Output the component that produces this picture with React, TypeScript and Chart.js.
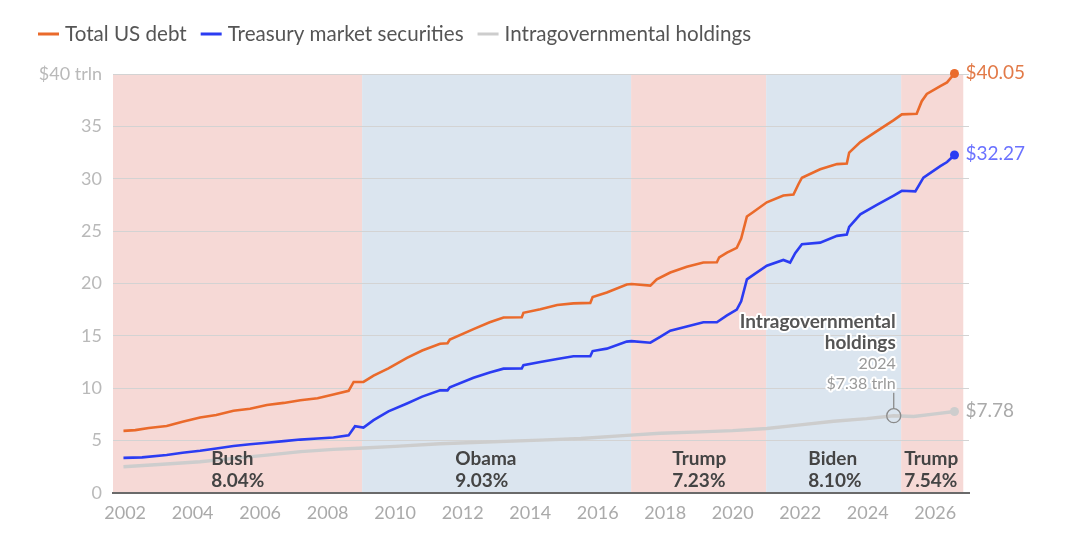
import React, { useEffect, useRef } from "react";
import { Chart, registerables } from "chart.js";

Chart.register(...registerables);

// ---------- DATA ----------
const totalDebtYears = [
  2001.95, 2002.3, 2002.7, 2003.23, 2003.7, 2004.22, 2004.7, 2005.21, 2005.7, 2006.2, 2006.7, 2007.19, 2007.7,
  2008.17, 2008.62, 2008.77, 2009.06, 2009.36, 2009.8, 2010.35, 2010.8, 2011.33, 2011.55, 2011.62, 2012.32,
  2012.8, 2013.21, 2013.75, 2013.8, 2014.3, 2014.8, 2015.28, 2015.78, 2015.85, 2016.27, 2016.86, 2017.0,
  2017.56, 2017.75, 2018.15, 2018.64, 2019.13, 2019.53, 2019.6, 2019.83, 2020.12, 2020.25, 2020.42, 2020.6,
  2021.01, 2021.5, 2021.8, 2021.95, 2022.05, 2022.59, 2023.09, 2023.38, 2023.45, 2023.78, 2024.27, 2024.77,
  2025.01, 2025.45, 2025.6, 2025.75, 2026.15, 2026.35, 2026.57,
];
const totalDebtValues = [
  5.93, 6.0, 6.2, 6.4, 6.8, 7.2, 7.45, 7.85, 8.05, 8.4, 8.6, 8.85, 9.05,
  9.4, 9.75, 10.6, 10.6, 11.2, 11.9, 12.9, 13.6, 14.25, 14.3, 14.65, 15.65,
  16.3, 16.75, 16.77, 17.2, 17.55, 17.95, 18.1, 18.15, 18.7, 19.15, 19.9, 19.95,
  19.8, 20.4, 21.05, 21.6, 22.0, 22.03, 22.5, 22.95, 23.4, 24.3, 26.4, 26.8,
  27.75, 28.4, 28.5, 29.5, 30.1, 30.9, 31.4, 31.45, 32.5, 33.5, 34.55, 35.6,
  36.15, 36.2, 37.4, 38.1, 38.85, 39.2, 40.05,
];

const marketYears = [
  2001.95, 2002.5, 2003.23, 2003.7, 2004.22, 2004.7, 2005.21, 2005.7, 2006.2, 2006.7, 2007.19, 2007.7, 2008.17,
  2008.62, 2008.81, 2009.06, 2009.36, 2009.8, 2010.35, 2010.8, 2011.33, 2011.55, 2011.62, 2012.32, 2012.8,
  2013.21, 2013.75, 2013.8, 2014.3, 2014.8, 2015.28, 2015.78, 2015.85, 2016.27, 2016.86, 2017.0, 2017.56,
  2017.85, 2018.15, 2018.64, 2019.13, 2019.53, 2019.83, 2020.12, 2020.25, 2020.42, 2020.6, 2021.01, 2021.5,
  2021.7, 2021.85, 2022.05, 2022.59, 2023.09, 2023.38, 2023.45, 2023.78, 2024.27, 2024.77, 2025.01, 2025.41,
  2025.65, 2026.15, 2026.35, 2026.57,
];
const marketValues = [
  3.35, 3.4, 3.62, 3.85, 4.03, 4.25, 4.48, 4.65, 4.79, 4.95, 5.1, 5.2, 5.3,
  5.5, 6.38, 6.25, 6.95, 7.8, 8.55, 9.2, 9.8, 9.8, 10.1, 11.0, 11.5,
  11.87, 11.9, 12.2, 12.5, 12.8, 13.05, 13.05, 13.55, 13.78, 14.45, 14.5, 14.35,
  14.9, 15.5, 15.9, 16.3, 16.3, 16.95, 17.5, 18.3, 20.4, 20.8, 21.7, 22.25,
  22.0, 22.9, 23.75, 23.9, 24.55, 24.67, 25.4, 26.6, 27.5, 28.4, 28.85, 28.8,
  30.1, 31.2, 31.6, 32.27,
];

const intragovYears = [
  2001.95, 2003.0, 2004.22, 2005.2, 2006.2, 2007.2, 2008.17, 2009.06, 2010.0, 2011.33, 2012.5, 2014.3, 2015.5,
  2016.86, 2017.85, 2019.04, 2020.0, 2021.01, 2022.0, 2022.99, 2023.97, 2024.77, 2025.36, 2026.0, 2026.57,
];
const intragovValues = [
  2.5, 2.72, 2.98, 3.3, 3.62, 3.95, 4.16, 4.3, 4.45, 4.7, 4.85, 5.05, 5.2,
  5.5, 5.7, 5.84, 5.95, 6.16, 6.5, 6.85, 7.1, 7.38, 7.3, 7.55, 7.78,
];

const seriesLabels = ["Total US debt", "Treasury market securities", "Intragovernmental holdings"];
const endLabels = ["$40.05", "$32.27", "$7.78"];

const periodNames = ["Bush", "Obama", "Trump", "Biden", "Trump"];
const periodRates = ["8.04%", "9.03%", "7.23%", "8.10%", "7.54%"];
const periodStarts = [2001.64, 2009.02, 2016.99, 2020.99, 2024.99];
const periodEnds = [2009.02, 2016.99, 2020.99, 2024.99, 2026.83];
const periodParty = ["R", "D", "R", "D", "R"];
const periodLabelYears = [2004.55, 2011.78, 2018.21, 2022.24, 2025.08];

const xTickYears = [2002, 2004, 2006, 2008, 2010, 2012, 2014, 2016, 2018, 2020, 2022, 2024, 2026];
const yTickValues = [0, 5, 10, 15, 20, 25, 30, 35, 40];

const calloutYear = 2024.77;
const calloutValue = 7.38;
const calloutLines = ["Intragovernmental", "holdings", "2024", "$7.38 trln"];

// ---------- STYLE ----------
const FONT = "Lato, 'Noto Sans', sans-serif";
const seriesColors = ["#ea6a2b", "#2b3cf2", "#cdcdcd"];
const endLabelColors = ["#e27a48", "#6b72ff", "#aaaaaa"];
const shadeColors: Record<string, string> = { R: "#f6d9d6", D: "#dbe5ef" };

const toPoints = (xs: number[], ys: number[]) => xs.map((x, i) => ({ x, y: ys[i] }));

const legendPlugin = {
  id: "customLegend",
  afterDraw(chart: any) {
    const ctx = chart.ctx;
    ctx.save();
    ctx.font = `20.6px ${FONT}`;
    ctx.textBaseline = "middle";
    let x = 30;
    const y = 26;
    seriesLabels.forEach((label, i) => {
      ctx.fillStyle = seriesColors[i];
      ctx.fillRect(x, y - 1.5, 21, 3);
      x += 27;
      ctx.fillStyle = "#555555";
      ctx.textAlign = "left";
      ctx.fillText(label, x, y);
      x += ctx.measureText(label).width + 14;
    });
    ctx.restore();
  },
};

const shadePlugin = {
  id: "shading",
  beforeDraw(chart: any) {
    const { ctx, chartArea, scales } = chart;
    const xs = scales.x;
    ctx.save();
    periodStarts.forEach((s, i) => {
      const x0 = xs.getPixelForValue(s);
      const x1 = xs.getPixelForValue(periodEnds[i]);
      ctx.fillStyle = shadeColors[periodParty[i]];
      ctx.fillRect(x0, chartArea.top, x1 - x0, chartArea.bottom - chartArea.top);
    });
    ctx.restore();
  },
};

const annotationPlugin = {
  id: "annotations",
  afterDatasetsDraw(chart: any) {
    const { ctx, scales } = chart;
    const xs = scales.x;
    const ys = scales.y;
    ctx.save();
    // period labels
    ctx.textAlign = "left";
    ctx.textBaseline = "middle";
    ctx.fillStyle = "#444444";
    ctx.font = `bold 19px ${FONT}`;
    const yName = ys.getPixelForValue(0) - 34;
    const yRate = ys.getPixelForValue(0) - 12;
    periodNames.forEach((n, i) => {
      const x = xs.getPixelForValue(periodLabelYears[i]);
      ctx.fillText(n, x, yName);
      ctx.fillText(periodRates[i], x, yRate);
    });

    // callout
    const cx = xs.getPixelForValue(calloutYear);
    const cy = ys.getPixelForValue(calloutValue);
    ctx.strokeStyle = "#8a8a8a";
    ctx.lineWidth = 1.3;
    ctx.beginPath();
    ctx.arc(cx, cy, 7, 0, Math.PI * 2);
    ctx.stroke();
    ctx.beginPath();
    ctx.moveTo(cx, cy - 7);
    ctx.lineTo(cx, cy - 23);
    ctx.stroke();

    ctx.textAlign = "right";
    ctx.lineJoin = "round";
    const offsets = [-94, -73, -52, -32];
    calloutLines.forEach((t, i) => {
      const bold = i < 2;
      ctx.font = bold ? `bold 19px ${FONT}` : `16px ${FONT}`;
      const tx = cx + 2;
      const ty = cy + offsets[i];
      ctx.strokeStyle = "#ffffff";
      ctx.lineWidth = 4;
      ctx.strokeText(t, tx, ty);
      ctx.fillStyle = bold ? "#555555" : "#999999";
      ctx.fillText(t, tx, ty);
    });

    // end labels
    ctx.textAlign = "left";
    ctx.font = `19px ${FONT}`;
    chart.data.datasets.forEach((ds: any, i: number) => {
      const meta = chart.getDatasetMeta(i);
      const last = meta.data[meta.data.length - 1];
      ctx.fillStyle = endLabelColors[i];
      ctx.fillText(endLabels[i], last.x + 11, last.y - 1);
    });
    ctx.restore();
  },
};

export default function App() {
  const canvasRef = useRef<HTMLCanvasElement | null>(null);

  useEffect(() => {
    if (!canvasRef.current) return;
    const seriesX = [totalDebtYears, marketYears, intragovYears];
    const seriesY = [totalDebtValues, marketValues, intragovValues];
    const datasets = seriesLabels.map((label, i) => {
      const n = seriesX[i].length;
      return {
        label,
        data: toPoints(seriesX[i], seriesY[i]),
        borderColor: seriesColors[i],
        backgroundColor: seriesColors[i],
        borderWidth: i === 2 ? 3.4 : 2.6,
        tension: 0,
        clip: false as const,
        pointRadius: (c: any) => (c.dataIndex === n - 1 ? 4.5 : 0),
        pointHoverRadius: 0,
        pointBorderWidth: 0,
        order: 3 - i,
      };
    });

    const chart = new Chart(canvasRef.current, {
      type: "line",
      data: { datasets },
      options: {
        animation: false,
        responsive: false,
        maintainAspectRatio: false,
        layout: { padding: { top: 66, right: 103, bottom: 14, left: 0 } },
        plugins: { legend: { display: false }, tooltip: { enabled: false } },
        scales: {
          x: {
            type: "linear",
            min: 2001.64,
            max: 2027.0,
            afterBuildTicks: (scale: any) => {
              scale.ticks = xTickYears.map((v) => ({ value: v }));
            },
            afterFit: (scale: any) => {
              scale.height = 30;
            },
            grid: { display: false, drawTicks: false },
            border: { display: true, color: "#6a6a6a", width: 2 },
            ticks: {
              color: "#aaaaaa",
              font: { family: FONT, size: 18 },
              padding: 9,
              maxRotation: 0,
              autoSkip: false,
              callback: (v: any) => String(v),
            },
          },
          y: {
            min: 0,
            max: 40,
            afterBuildTicks: (scale: any) => {
              scale.ticks = yTickValues.map((v) => ({ value: v }));
            },
            afterFit: (scale: any) => {
              scale.width = 105;
            },
            grid: { color: "#d3d3d3", lineWidth: 1, drawTicks: false },
            border: { display: false },
            ticks: {
              color: "#b9b9b9",
              font: { family: FONT, size: 18 },
              padding: 11,
              callback: (v: any) => (v === 40 ? "$40 trln" : String(v)),
            },
          },
        },
      },
      plugins: [shadePlugin, annotationPlugin, legendPlugin],
    });
    return () => chart.destroy();
  }, []);

  return (
    <div style={{ width: 1064, height: 529 }}>
      <canvas ref={canvasRef} width={1064} height={529} style={{ width: 1064, height: 529 }} />
    </div>
  );
}
